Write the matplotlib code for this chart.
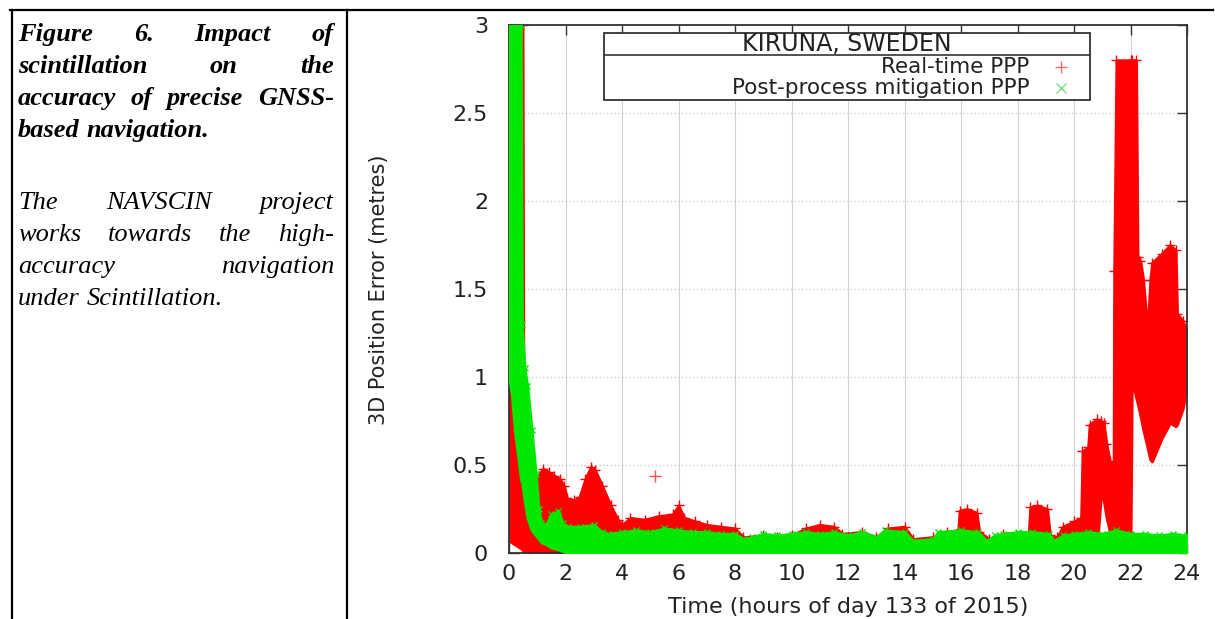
"""
Kiruna 3D position error figure (real-time PPP vs post-process mitigation PPP),
redrawn as a table cell with the caption on the left.
"""

import matplotlib
matplotlib.use("Agg")
import matplotlib.pyplot as plt
from matplotlib.patches import Rectangle
from matplotlib.lines import Line2D
from matplotlib.ticker import FormatStrFormatter

W, H = 1215, 619

# ---- caption text -------------------------------------------------------
caption_bold = [
    ("Figure 6. Impact of", True),
    ("scintillation on the", True),
    ("accuracy of precise GNSS-", True),
    ("based navigation.", False),
]
caption_plain = [
    ("The NAVSCIN project", True),
    ("works towards the high-", True),
    ("accuracy navigation", True),
    ("under Scintillation.", False),
]

# ---- chart labels -------------------------------------------------------
chart_title = "KIRUNA, SWEDEN"
series_names = ["Real-time PPP", "Post-process mitigation PPP"]
xlabel = "Time (hours of day 133 of 2015)"
ylabel = "3D Position Error (metres)"
xticks = list(range(0, 25, 2))
yticks = [0, 0.5, 1, 1.5, 2, 2.5, 3]

# ---- Real-time PPP band (hours, lower edge, upper edge) -----------------
red_t = [0.00, 0.48, 0.52, 1.00, 1.05, 1.20, 1.40, 1.60, 1.80, 1.95,
         2.05, 2.30, 2.50, 2.70, 2.90, 3.05, 3.30, 3.60, 3.85, 4.00,
         4.30, 4.80, 5.30, 5.80, 6.00, 6.20, 6.60, 7.00, 7.50, 8.00,
         8.30, 9.00, 9.50, 10.0, 10.5, 11.0, 11.5, 11.8, 12.5, 13.0,
         13.4, 14.0, 14.3, 15.0, 15.5, 15.9, 15.95, 16.2, 16.55, 16.65,
         17.0, 17.5, 18.4, 18.45, 18.7, 19.05, 19.15, 19.4, 19.6, 20.0,
         20.25, 20.3, 20.5, 20.55, 20.8, 20.95, 21.05, 21.15, 21.27, 21.4,
         21.42, 21.5, 22.0, 22.05, 22.2, 22.25, 22.35, 22.45, 22.6, 22.7,
         22.76, 23.1, 23.4, 23.6, 23.65, 23.85, 24.0]
red_lo = [0.07, 0.02, 0.00, 0.00, 0.00, 0.00, 0.00, 0.00, 0.00, 0.00,
          0.00, 0.00, 0.00, 0.00, 0.00, 0.00, 0.00, 0.00, 0.00, 0.00,
          0.00, 0.00, 0.00, 0.00, 0.00, 0.00, 0.00, 0.00, 0.00, 0.00,
          0.00, 0.00, 0.00, 0.00, 0.00, 0.00, 0.00, 0.00, 0.00, 0.00,
          0.00, 0.00, 0.00, 0.00, 0.00, 0.00, 0.00, 0.00, 0.00, 0.00,
          0.00, 0.00, 0.00, 0.00, 0.00, 0.00, 0.00, 0.00, 0.00, 0.00,
          0.00, 0.00, 0.00, 0.00, 0.00, 0.32, 0.30, 0.20, 0.12, 0.00,
          0.00, 0.00, 0.00, 1.00, 0.88, 0.85, 0.78, 0.70, 0.60, 0.53,
          0.52, 0.65, 0.74, 0.72, 0.73, 0.82, 0.94]
red_hi = [3.00, 3.00, 0.35, 0.12, 0.44, 0.48, 0.46, 0.44, 0.42, 0.38,
          0.31, 0.30, 0.32, 0.42, 0.49, 0.47, 0.38, 0.27, 0.19, 0.16,
          0.20, 0.19, 0.21, 0.22, 0.27, 0.20, 0.18, 0.16, 0.15, 0.14,
          0.09, 0.10, 0.09, 0.10, 0.14, 0.16, 0.15, 0.11, 0.12, 0.09,
          0.14, 0.15, 0.08, 0.09, 0.12, 0.13, 0.24, 0.25, 0.23, 0.12,
          0.08, 0.11, 0.12, 0.26, 0.27, 0.25, 0.10, 0.09, 0.15, 0.18,
          0.20, 0.58, 0.60, 0.73, 0.76, 0.75, 0.74, 0.62, 0.52, 0.50,
          1.60, 2.80, 2.80, 2.80, 2.80, 1.68, 1.66, 1.55, 1.27, 1.55,
          1.65, 1.70, 1.75, 1.72, 1.36, 1.32, 1.25]
red_outlier_t = [5.17]
red_outlier_v = [0.44]

# ---- Post-process mitigation PPP band ------------------------------------
green_t = [0.00, 0.10, 0.20, 0.42, 0.46, 0.55, 0.65, 0.80, 0.95, 1.05,
           1.15, 1.30, 1.50, 1.75, 1.90, 2.10, 2.50, 3.00, 3.30, 3.50,
           4.00, 4.50, 5.00, 5.50, 6.00, 6.50, 7.00, 7.50, 8.00, 8.30,
           8.60, 9.00, 9.50, 10.0, 10.5, 11.0, 11.5, 12.0, 12.5, 13.0,
           13.3, 14.0, 14.3, 15.0, 15.2, 16.0, 16.6, 16.9, 17.2, 17.5,
           18.0, 18.5, 19.1, 19.3, 19.6, 20.0, 20.5, 21.0, 21.5, 22.0,
           22.5, 23.0, 23.5, 24.0]
green_lo = [1.00, 0.90, 0.70, 0.42, 0.40, 0.30, 0.20, 0.13, 0.10, 0.08,
            0.06, 0.05, 0.03, 0.02, 0.01, 0.00, 0.00, 0.00, 0.00, 0.00,
            0.00, 0.00, 0.00, 0.00, 0.00, 0.00, 0.00, 0.00, 0.00, 0.00,
            0.00, 0.00, 0.00, 0.00, 0.00, 0.00, 0.00, 0.00, 0.00, 0.00,
            0.00, 0.00, 0.00, 0.00, 0.00, 0.00, 0.00, 0.00, 0.00, 0.00,
            0.00, 0.00, 0.00, 0.00, 0.00, 0.00, 0.00, 0.00, 0.00, 0.00,
            0.00, 0.00, 0.00, 0.00]
green_hi = [3.00, 3.00, 3.00, 3.00, 1.30, 1.05, 0.95, 0.70, 0.45, 0.25,
            0.17, 0.16, 0.22, 0.24, 0.17, 0.15, 0.15, 0.16, 0.12, 0.11,
            0.12, 0.13, 0.12, 0.14, 0.13, 0.12, 0.12, 0.11, 0.11, 0.08,
            0.09, 0.11, 0.10, 0.11, 0.12, 0.11, 0.12, 0.10, 0.12, 0.09,
            0.13, 0.12, 0.07, 0.08, 0.12, 0.13, 0.12, 0.07, 0.10, 0.11,
            0.12, 0.12, 0.11, 0.07, 0.10, 0.11, 0.12, 0.11, 0.13, 0.11,
            0.11, 0.10, 0.11, 0.10]

RED = "#ff0000"
GREEN = "#00e800"


def px(x, y):
    """Pixel position (from top-left) to figure fraction."""
    return x / W, 1 - y / H


def caption_line(fig, text, y, x0, x1, justify, weight):
    """Draw one caption line, stretched to the column width when justified."""
    r = fig.canvas.get_renderer()
    words = text.split()
    objs = [fig.text(0, 1 - y / H, w, fontfamily="Liberation Serif", fontstyle="italic",
                     fontweight=weight, fontsize=19, va="baseline", ha="left")
            for w in words]
    widths = [o.get_window_extent(r).width for o in objs]
    if justify and len(objs) > 1:
        gap = (x1 - x0 - sum(widths)) / (len(objs) - 1)
    else:
        gap = 6.5
    x = x0
    for o, wd in zip(objs, widths):
        o.set_x(x / W)
        x += wd + gap


fig = plt.figure(figsize=(W / 100, H / 100), dpi=100)

# table borders
fig.add_artist(Line2D([10 / W, 1213 / W], [1 - 9.5 / H] * 2, color="black", lw=1.6))
fig.add_artist(Line2D([11.5 / W] * 2, [0, 1 - 9.5 / H], color="black", lw=1.6))
fig.add_artist(Line2D([347.5 / W] * 2, [0, 1 - 9.5 / H], color="black", lw=1.6))

# caption
for i, (line, just) in enumerate(caption_bold):
    caption_line(fig, line, 41 + 32 * i, 18, 334, just, "bold")
for i, (line, just) in enumerate(caption_plain):
    caption_line(fig, line, 209 + 32 * i, 18, 334, just, "normal")

# chart
ax = fig.add_axes([509 / W, 1 - 553 / H, 678 / W, 528 / H])
ax.fill_between(red_t, red_lo, red_hi, color=RED, lw=2.0, edgecolor=RED, zorder=2)
ax.plot(red_t, red_hi, "+", color=RED, ms=7, mew=1.0, zorder=2)
ax.plot(red_outlier_t, red_outlier_v, "+", color="#ff5050", ms=9, mew=1.0, zorder=2)
ax.fill_between(green_t, green_lo, green_hi, color=GREEN, lw=2.0, edgecolor=GREEN, zorder=3)
ax.plot(green_t, green_hi, "x", color=GREEN, ms=5, mew=1.0, zorder=3)

ax.set_xlim(0, 24)
ax.set_ylim(0, 3)
ax.set_xticks(xticks)
ax.set_yticks(yticks)
ax.yaxis.set_major_formatter(FormatStrFormatter("%g"))
ax.tick_params(direction="in", length=7, width=1.0, top=True, right=True,
               labelsize=16, labelcolor="#222222", color="#333333")
ax.tick_params(axis="x", pad=8)
ax.tick_params(axis="y", pad=15)
for s in ax.spines.values():
    s.set_linewidth(1.3)
    s.set_color("#333333")
ax.set_axisbelow(True)
ax.grid(axis="x", color="#d2d2d2", lw=0.8, ls="-")
ax.grid(axis="y", color="#c4c4c4", lw=0.9, ls=(0, (1, 2)))

# legend box in gnuplot style
lx0, lx1, ly0, ly1 = 0.140, 0.857, 0.858, 0.985
ax.add_patch(Rectangle((lx0, ly0), lx1 - lx0, ly1 - ly0, transform=ax.transAxes,
                       facecolor="white", edgecolor="#333333", lw=1.3, zorder=5))
ax.add_line(Line2D([lx0, lx1], [0.943, 0.943], transform=ax.transAxes,
                   color="#333333", lw=1.2, zorder=6))
ax.text((lx0 + lx1) / 2, 0.964, chart_title, transform=ax.transAxes, ha="center",
        va="center", fontsize=17, color="#222222", zorder=6)
ax.text(0.768, 0.921, series_names[0], transform=ax.transAxes, ha="right",
        va="center", fontsize=15.5, color="#222222", zorder=6)
ax.text(0.768, 0.881, series_names[1], transform=ax.transAxes, ha="right",
        va="center", fontsize=15.5, color="#222222", zorder=6)
ax.plot([0.814], [0.921], "+", color="#ff6a6a", ms=9, mew=1.0, transform=ax.transAxes, zorder=6)
ax.plot([0.814], [0.881], "x", color="#7ee07e", ms=7, mew=1.0, transform=ax.transAxes, zorder=6)

# axis titles
fig.text(*px(379, 290), ylabel, rotation=90, ha="center", va="center", fontsize=15,
         color="#222222")
fig.text(*px(848, 597), xlabel, ha="center", va="top", fontsize=16, color="#222222")

fig.savefig("out.png", dpi=100)
